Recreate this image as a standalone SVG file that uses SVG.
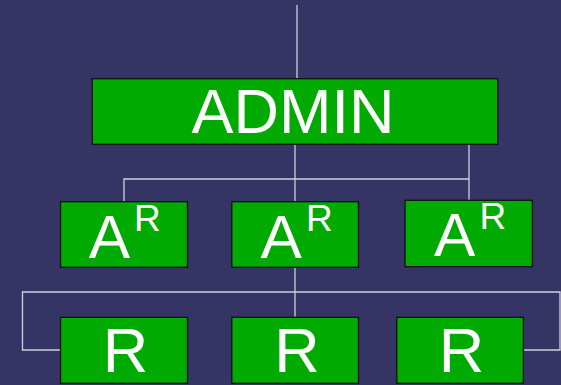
<svg xmlns="http://www.w3.org/2000/svg" width="561" height="385" viewBox="0 0 561 385">
<style>
.box{fill:#00aa00;stroke:#111;stroke-width:1.3}
.t{fill:#fff;font-family:"Liberation Sans",Arial,sans-serif}
.ln{stroke:#d0d0dc;stroke-width:1.3;fill:none}
</style>
<rect width="561" height="385" fill="#343465"/>
<g id="connectors">
<line class="ln" x1="297" y1="5" x2="297" y2="79"/>
<line class="ln" x1="295" y1="144" x2="295" y2="317"/>
<polyline class="ln" points="124,202 124,179 469,179"/>
<line class="ln" x1="469" y1="141" x2="469" y2="200"/>
<polyline class="ln" points="61,350 22.5,350 22.5,292 560,292 560,350 523,350"/>
</g>
<g id="admin">
<rect class="box" x="92.3" y="78.7" width="405.5" height="65.6"/>
<text class="t" x="293" y="133" font-size="63" text-anchor="middle">ADMIN</text>
</g>
<g id="ar1">
<rect class="box" x="60.5" y="201.7" width="127" height="65.6"/>
<text class="t" font-size="62"><tspan x="88.7" y="258">A</tspan><tspan x="134" y="231" font-size="37">R</tspan></text>
</g>
<g id="ar2">
<rect class="box" x="231.8" y="201.7" width="126.7" height="65.6"/>
<text class="t" font-size="62"><tspan x="260.5" y="258">A</tspan><tspan x="306" y="231" font-size="37">R</tspan></text>
</g>
<g id="ar3">
<rect class="box" x="405" y="200.3" width="127.4" height="66.4"/>
<text class="t" font-size="62"><tspan x="434" y="256">A</tspan><tspan x="479.5" y="229" font-size="37">R</tspan></text>
</g>
<g id="r1">
<rect class="box" x="60.5" y="317.3" width="127" height="66"/>
<text class="t" x="125.5" y="372" font-size="63" text-anchor="middle">R</text>
</g>
<g id="r2">
<rect class="box" x="231.8" y="317.3" width="126.7" height="66"/>
<text class="t" x="297" y="372" font-size="63" text-anchor="middle">R</text>
</g>
<g id="r3">
<rect class="box" x="396.8" y="317.3" width="126.6" height="66"/>
<text class="t" x="461.5" y="372" font-size="63" text-anchor="middle">R</text>
</g>
</svg>
